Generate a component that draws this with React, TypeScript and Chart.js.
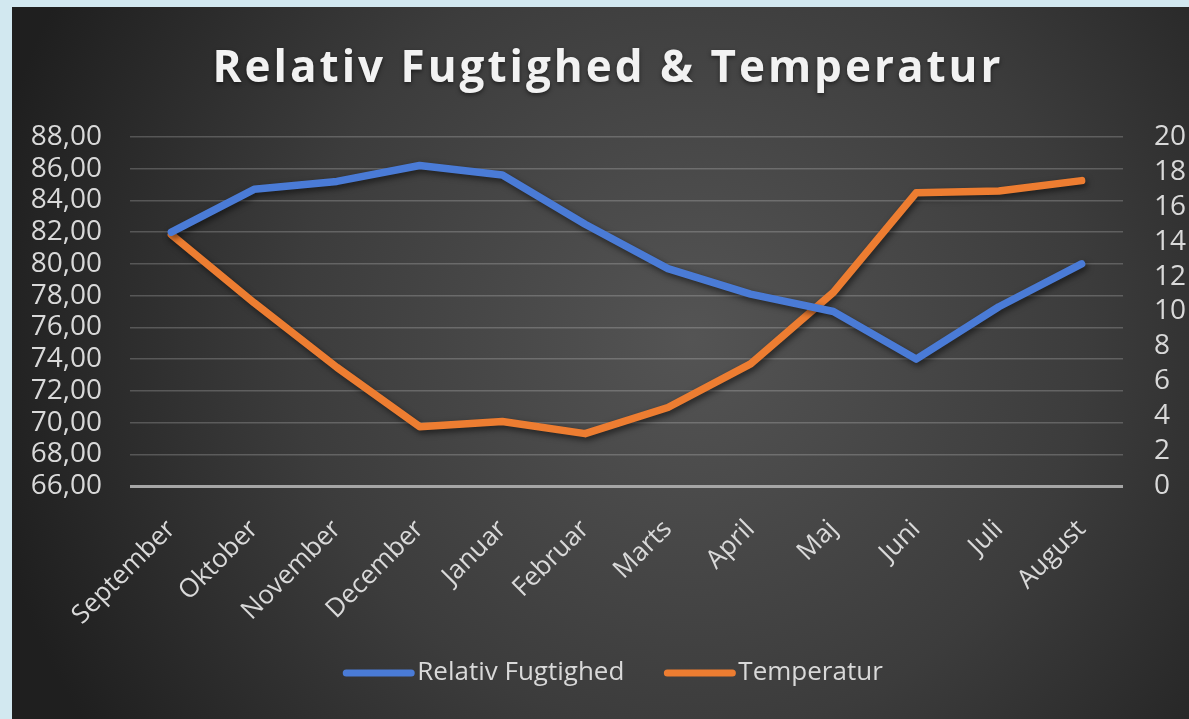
import React, { useEffect, useRef } from "react";
import { Chart, registerables } from "chart.js";

Chart.register(...registerables);

const chartTitle = "Relativ Fugtighed & Temperatur";
const months = ["September", "Oktober", "November", "December", "Januar", "Februar", "Marts", "April", "Maj", "Juni", "Juli", "August"];
const humidityLabel = "Relativ Fugtighed";
const temperatureLabel = "Temperatur";
const humidity = [82.0, 84.7, 85.2, 86.2, 85.6, 82.5, 79.7, 78.1, 77.0, 74.0, 77.3, 80.0];
const temperature = [14.4, 10.5, 6.8, 3.4, 3.7, 3.0, 4.5, 7.0, 11.1, 16.8, 16.9, 17.5];
const humidityAxis = { min: 66, max: 88, step: 2 };
const temperatureAxis = { min: 0, max: 20, step: 2 };

const BLUE = "#4a7bd6";
const ORANGE = "#ed7d31";
const TEXT = "#d9d9d9";
const FONT = "'Open Sans', 'Noto Sans', sans-serif";

const W = 1177;
const H = 712;

const bgPlugin = {
  id: "bgPlugin",
  beforeDraw(chart: any) {
    const { ctx } = chart;
    ctx.save();
    const g = ctx.createRadialGradient(680, 330, 0, 680, 330, 720);
    g.addColorStop(0, "#545454");
    g.addColorStop(0.55, "#3c3c3c");
    g.addColorStop(1, "#1f1f1f");
    ctx.fillStyle = g;
    ctx.fillRect(0, 0, chart.width, chart.height);
    ctx.restore();
  },
};

const shadowPlugin = {
  id: "shadowPlugin",
  beforeDatasetsDraw(chart: any) {
    const { ctx } = chart;
    ctx.save();
    ctx.shadowColor = "rgba(0,0,0,0.55)";
    ctx.shadowBlur = 6;
    ctx.shadowOffsetX = 2;
    ctx.shadowOffsetY = 3;
  },
  afterDatasetsDraw(chart: any) {
    chart.ctx.restore();
  },
};

const titleLegendPlugin = {
  id: "titleLegendPlugin",
  afterDraw(chart: any) {
    const { ctx } = chart;
    // title
    ctx.save();
    ctx.font = `bold 44px ${FONT}`;
    (ctx as any).letterSpacing = "3px";
    ctx.fillStyle = "#f2f2f2";
    ctx.textAlign = "center";
    ctx.textBaseline = "middle";
    ctx.shadowColor = "rgba(0,0,0,0.5)";
    ctx.shadowBlur = 4;
    ctx.shadowOffsetY = 2;
    ctx.fillText(chartTitle, 596, 62);
    ctx.restore();

    // legend
    const items = [
      { label: humidityLabel, color: BLUE },
      { label: temperatureLabel, color: ORANGE },
    ];
    ctx.save();
    ctx.font = `26px ${FONT}`;
    const lineW = 71;
    const gap = 3;
    const spacing = 40;
    const widths = items.map((it) => lineW + gap + ctx.measureText(it.label).width);
    const total = widths.reduce((a, b) => a + b, 0) + spacing * (items.length - 1);
    let x = 601 - total / 2;
    const y = 666;
    items.forEach((it, i) => {
      ctx.strokeStyle = it.color;
      ctx.lineWidth = 7;
      ctx.lineCap = "round";
      ctx.beginPath();
      ctx.moveTo(x + 3, y);
      ctx.lineTo(x + lineW - 3, y);
      ctx.stroke();
      ctx.fillStyle = TEXT;
      ctx.textAlign = "left";
      ctx.textBaseline = "middle";
      ctx.fillText(it.label, x + lineW + gap, y);
      x += widths[i] + spacing;
    });
    ctx.restore();
  },
};

export default function App() {
  const ref = useRef<HTMLCanvasElement>(null);

  useEffect(() => {
    document.body.style.margin = "0";
    document.body.style.background = "#d2e8f0";
    const canvas = ref.current;
    if (!canvas) return;
    const chart = new Chart(canvas, {
      type: "line",
      data: {
        labels: months,
        datasets: [
          {
            label: humidityLabel,
            data: humidity,
            borderColor: BLUE,
            backgroundColor: BLUE,
            borderWidth: 7.5,
            pointRadius: 0,
            borderJoinStyle: "round",
            borderCapStyle: "round",
            tension: 0,
            yAxisID: "y",
          },
          {
            label: temperatureLabel,
            data: temperature,
            borderColor: ORANGE,
            backgroundColor: ORANGE,
            borderWidth: 7.5,
            pointRadius: 0,
            borderJoinStyle: "round",
            borderCapStyle: "round",
            tension: 0,
            yAxisID: "y1",
          },
        ],
      },
      options: {
        responsive: false,
        animation: false,
        devicePixelRatio: 1,
        layout: { padding: { top: 130, bottom: 53, left: 0, right: 0 } },
        plugins: {
          legend: { display: false },
          title: { display: false },
          tooltip: { enabled: false },
        },
        scales: {
          x: {
            offset: true,
            grid: { display: false },
            border: { display: false },
            ticks: {
              color: TEXT,
              font: { family: FONT, size: 26 },
              maxRotation: 45,
              minRotation: 45,
              padding: 20,
              autoSkip: false,
            },
            afterFit(scale: any) {
              scale.height = 180;
            },
          },
          y: {
            position: "left",
            min: humidityAxis.min,
            max: humidityAxis.max,
            border: { display: false },
            grid: {
              drawTicks: false,
              color: (c: any) => (c.tick && c.tick.value === humidityAxis.min ? "#a6a6a6" : "rgba(255,255,255,0.2)"),
              lineWidth: (c: any) => (c.tick && c.tick.value === humidityAxis.min ? 3 : 1.5),
            },
            ticks: {
              stepSize: humidityAxis.step,
              autoSkip: false,
              color: TEXT,
              font: { family: FONT, size: 28 },
              padding: 28,
              callback: (v: any) => Number(v).toFixed(2).replace(".", ","),
            },
            afterFit(scale: any) {
              scale.width = 118;
            },
          },
          y1: {
            position: "right",
            min: temperatureAxis.min,
            max: temperatureAxis.max,
            border: { display: false },
            grid: { drawOnChartArea: false, drawTicks: false },
            ticks: {
              stepSize: temperatureAxis.step,
              autoSkip: false,
              color: TEXT,
              font: { family: FONT, size: 28 },
              padding: 31,
            },
            afterFit(scale: any) {
              scale.width = 66;
            },
          },
        },
      },
      plugins: [bgPlugin, shadowPlugin, titleLegendPlugin],
    } as any);
    return () => chart.destroy();
  }, []);

  return (
    <div style={{ position: "absolute", left: 12, top: 7, width: W, height: H }}>
      <canvas ref={ref} width={W} height={H} style={{ width: W, height: H, display: "block" }} />
    </div>
  );
}
